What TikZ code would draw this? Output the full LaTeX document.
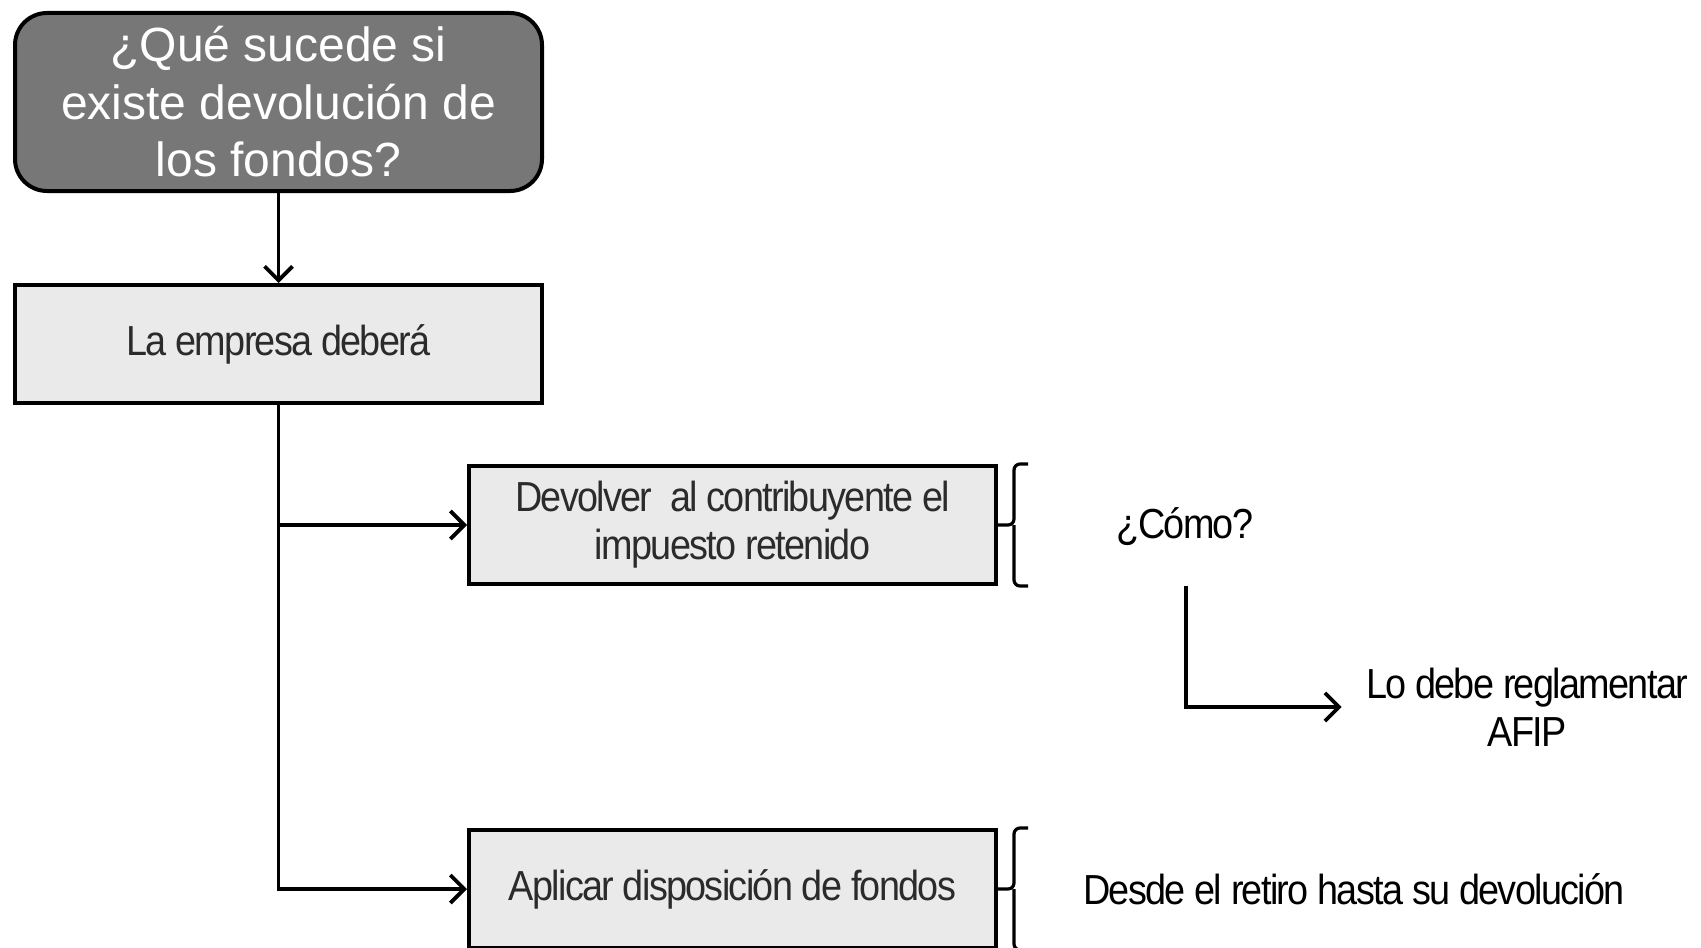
\documentclass[tikz,border=0pt]{standalone}
\usepackage{fontspec}
\setmainfont{Liberation Sans}
\newfontfamily\cond[FakeStretch=0.9,LetterSpace=-4]{Liberation Sans}
\usetikzlibrary{arrows.meta}
\definecolor{titlefill}{HTML}{777777}
\definecolor{boxfill}{HTML}{EAEAEA}
\definecolor{boxtext}{HTML}{2B2B2B}
\begin{document}
\begin{tikzpicture}[x=0.5pt,y=-0.5pt,
  titlebox/.style={draw=black, line width=2pt, fill=titlefill, rounded corners=16pt,
    minimum width=263.5pt, minimum height=89pt, inner sep=0pt, align=center,
    text=white, font=\fontsize{24}{28.75}\selectfont},
  stepbox/.style={draw=black, line width=2pt, fill=boxfill, minimum width=263.5pt,
    minimum height=59pt, inner sep=0pt, align=center, text=boxtext,
    font=\cond\fontsize{21}{24}\selectfont},
  plain/.style={inner sep=0pt, align=center, text=black, font=\cond\fontsize{21}{24}\selectfont},
  arr/.style={line width=1.9pt, -{Straight Barb[length=7pt,width=14pt]}},
  brace/.style={line width=1.6pt, rounded corners=3pt}]
\useasboundingbox (0,0) rectangle (1701,947);
\clip (0,0) rectangle (1701,947);
\fill[white] (0,0) rectangle (1701,947);

\node[titlebox] (t) at (278.5,102) {¿Qué sucede si\\existe devolución de\\los fondos?};
\node[stepbox] (b2) at (278.5,344) {La empresa deberá};
\node[stepbox] (b3) at (732.5,525) {Devolver~\ al contribuyente el\\impuesto retenido};
\node[stepbox] (b4) at (732.5,889) {Aplicar disposición de fondos};

\node[plain] (como) at (1185,527) {¿Cómo?};
\node[plain] (lo) at (1527,707) {Lo debe reglamentar\\AFIP};
\node[plain] (desde) at (1354,889) {Desde el retiro hasta su devolución};

\draw[arr] (t.south) -- (b2.north);
\draw[arr] (b2.south) |- (b3.west);
\draw[arr] (b2.south) |- (b4.west);

\coordinate (ls) at (1186,586);
\draw[arr, shorten >=12pt] (ls) |- (lo.west);

% braces
\foreach \b in {b3,b4}{
  \draw[brace] ([xshift=15pt]\b.north east) -- ([xshift=8pt]\b.north east)
     -- ([xshift=8pt]\b.east) -- (\b.east);
  \draw[brace] ([xshift=8pt]\b.east) -- ([xshift=8pt]\b.south east)
     -- ([xshift=15pt]\b.south east);
}
\end{tikzpicture}
\end{document}
